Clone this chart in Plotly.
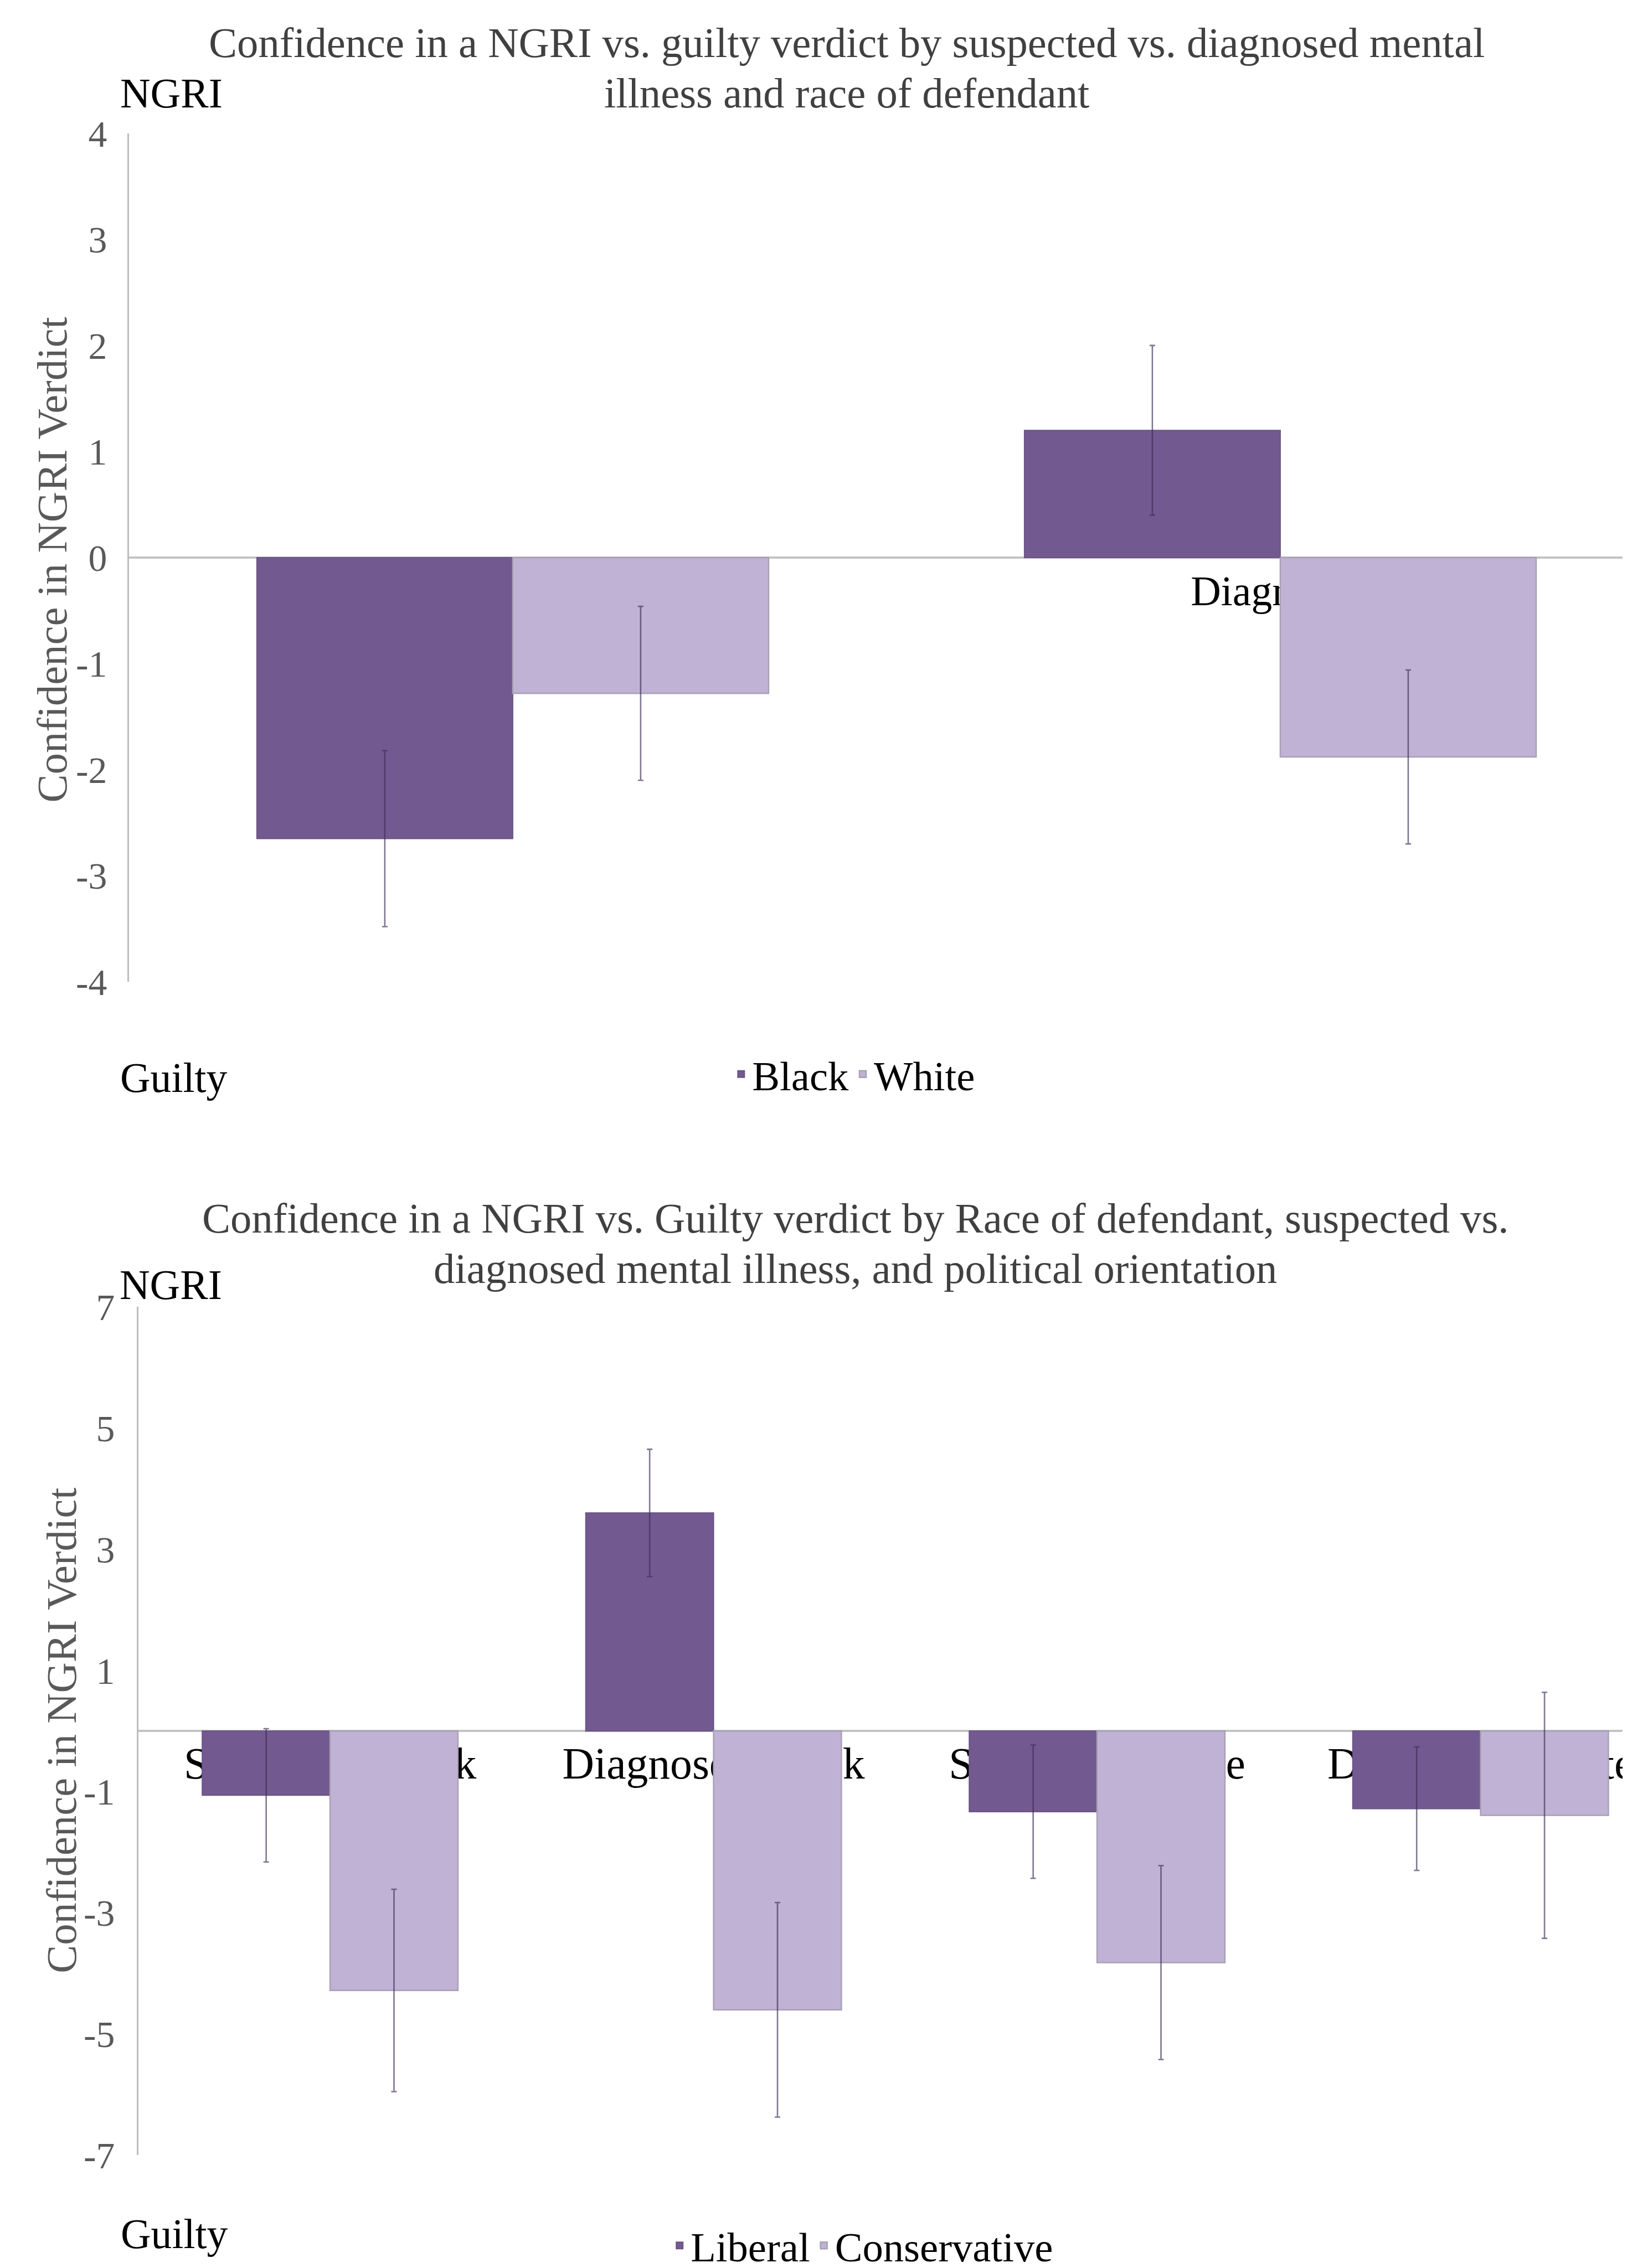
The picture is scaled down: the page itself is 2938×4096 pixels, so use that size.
import plotly.graph_objects as go

# ---------------- data ----------------
top_categories = ["Suspected", "Diagnosed"]
top_black = [-2.65, 1.20]
top_black_err = [0.83, 0.80]
top_white = [-1.28, -1.88]
top_white_err = [0.82, 0.82]

bot_categories = ["Suspected Black", "Diagnosed Black", "Suspected White", "Diagnosed White"]
bot_liberal = [-1.06, 3.60, -1.33, -1.28]
bot_liberal_err = [1.10, 1.05, 1.10, 1.02]
bot_conservative = [-4.28, -4.60, -3.82, -1.39]
bot_conservative_err = [1.67, 1.77, 1.60, 2.03]

top_yticks = [-4, -3, -2, -1, 0, 1, 2, 3, 4]
top_yticktext = ["-4", "-3", "-2", "-1", "0", "1", "2", "3", "4"]
bot_yticks = [-7, -5, -3, -1, 1, 3, 5, 7]
bot_yticktext = ["-7", "-5", "-3", "-1", "1", "3", "5", "7"]

# ---------------- geometry helpers ----------------
W, H = 2938, 4096
S = 0.995
RW, RH = W / S, H / S          # reference-coordinate extent


def px(x):
    return x / RW


def py(y):
    return 1 - y / RH


FONT = "Liberation Serif"
DARK = "#725A90"
LIGHT = "#C0B2D4"
ERR = "rgba(60,45,85,0.65)"

fig = go.Figure()

# ---------------- traces ----------------
err_style = dict(type="data", color=ERR, thickness=2.6 * S, width=5 * S)

fig.add_trace(go.Bar(x=top_categories, y=top_black, name="Black",
                     marker=dict(color=DARK, line=dict(color="#6A5487", width=2 * S)),
                     error_y=dict(array=top_black_err, **err_style),
                     xaxis="x", yaxis="y", legend="legend"))
fig.add_trace(go.Bar(x=top_categories, y=top_white, name="White",
                     marker=dict(color=LIGHT, line=dict(color="#A9A0B6", width=2.5 * S)),
                     error_y=dict(array=top_white_err, **err_style),
                     xaxis="x", yaxis="y", legend="legend"))

fig.add_trace(go.Bar(x=bot_categories, y=bot_liberal, name="Liberal",
                     marker=dict(color=DARK, line=dict(color="#6A5487", width=2 * S)),
                     error_y=dict(array=bot_liberal_err, **err_style),
                     xaxis="x2", yaxis="y2", legend="legend2"))
fig.add_trace(go.Bar(x=bot_categories, y=bot_conservative, name="Conservative",
                     marker=dict(color=LIGHT, line=dict(color="#A9A0B6", width=2.5 * S)),
                     error_y=dict(array=bot_conservative_err, **err_style),
                     xaxis="x2", yaxis="y2", legend="legend2"))

# ---------------- axes ----------------
top_x0 = 226
top_catw = 1393
top_ytop, top_ybot = 234, 1774
bot_x0 = 243
bot_catw = 696
bot_ytop, bot_ybot = 2364, 3904

top_ydom = [py(top_ybot), py(top_ytop)]
bot_ydom = [py(bot_ybot), py(bot_ytop)]
top_yrange = [min(top_yticks), max(top_yticks)]
bot_yrange = [min(bot_yticks), max(bot_yticks)]


def zero_pos(dom, rng):
    return dom[0] + (0 - rng[0]) / (rng[1] - rng[0]) * (dom[1] - dom[0])


xcommon = dict(type="category", anchor="free", showline=True, linecolor="#C3C3C3",
               linewidth=4 * S, ticks="", showgrid=False, zeroline=False,
               layer="below traces", fixedrange=True, automargin=False)
ycommon = dict(showline=True, linecolor="#BDBDBD", linewidth=3 * S, ticks="",
               showgrid=False, zeroline=False, fixedrange=True, automargin=False,
               tickfont=dict(family=FONT, size=68 * S, color="#595959"))

fig.update_layout(
    xaxis=dict(domain=[px(top_x0), 1],
               range=[-0.5, -0.5 + (RW - top_x0) / top_catw],
               position=zero_pos(top_ydom, top_yrange),
               tickfont=dict(family=FONT, size=76 * S, color="black"),
               ticklabelstandoff=int(-8 * S), **xcommon),
    yaxis=dict(domain=top_ydom, range=top_yrange, tickvals=top_yticks,
               ticktext=top_yticktext,
               anchor="x", ticklabelstandoff=int(24 * S), **ycommon),
    xaxis2=dict(domain=[px(bot_x0), 1],
                range=[-0.5, -0.5 + (RW - bot_x0) / bot_catw],
                position=zero_pos(bot_ydom, bot_yrange),
                tickfont=dict(family=FONT, size=80 * S, color="black"),
                ticklabelstandoff=int(-13 * S), **xcommon),
    yaxis2=dict(domain=bot_ydom, range=bot_yrange, tickvals=bot_yticks,
                ticktext=bot_yticktext,
                anchor="x2", ticklabelstandoff=int(27 * S), **ycommon),
)

# ---------------- layout ----------------
fig.update_layout(
    width=W, height=H,
    margin=dict(l=0, r=0, t=0, b=0, autoexpand=False),
    paper_bgcolor="white", plot_bgcolor="rgba(0,0,0,0)",
    barmode="group", bargap=1 / 3, bargroupgap=0,
    showlegend=True,
    legend=dict(orientation="h", xref="container", yref="container",
                x=px(1542), y=py(1942), xanchor="center", yanchor="middle",
                font=dict(family=FONT, size=75 * S, color="black"),
                bgcolor="rgba(0,0,0,0)", itemclick=False, itemdoubleclick=False),
    legend2=dict(orientation="h", xref="container", yref="container",
                 x=px(1557), y=py(4068), xanchor="center", yanchor="middle",
                 font=dict(family=FONT, size=75 * S, color="black"),
                 bgcolor="rgba(0,0,0,0)", itemclick=False, itemdoubleclick=False),
)

ann = []


def text(t, x, y, size, color, xanchor="center", angle=0):
    ann.append(dict(text=t, x=px(x), y=py(y), xref="paper", yref="paper",
                    xanchor=xanchor, yanchor="middle", showarrow=False,
                    textangle=angle, font=dict(family=FONT, size=size * S, color=color)))


TITLE_C = "#404040"
# top chart
text("Confidence in a NGRI vs. guilty verdict by suspected vs. diagnosed mental", 1529, 70, 77, TITLE_C)
text("illness and race of defendant", 1529, 161, 77, TITLE_C)
text("NGRI", 208, 161, 76, "black", xanchor="left")
text("Guilty", 208, 1948, 76, "black", xanchor="left")
text("Confidence in NGRI Verdict", 87, 1008, 77, "#595959", angle=-90)
# bottom chart
text("Confidence in a NGRI vs. Guilty verdict by Race of defendant, suspected vs.", 1544, 2204, 77, TITLE_C)
text("diagnosed mental illness, and political orientation", 1544, 2295, 77, TITLE_C)
text("NGRI", 207, 2324, 76, "black", xanchor="left")
text("Guilty", 209, 4047, 76, "black", xanchor="left")
text("Confidence in NGRI Verdict", 104, 3133, 77, "#595959", angle=-90)

fig.update_layout(annotations=ann)

fig.write_html("out.html")
